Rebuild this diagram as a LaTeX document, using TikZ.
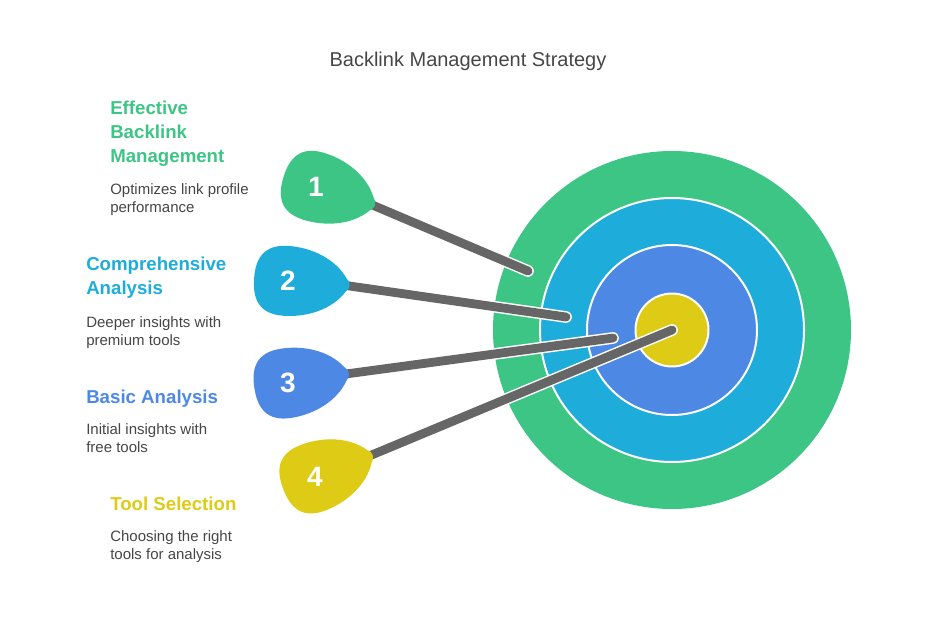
\documentclass[tikz,border=0pt]{standalone}
\usepackage{fontspec}
\setmainfont{Liberation Sans}
\usepackage{tikz}
\usetikzlibrary{positioning}
\definecolor{ringgreen}{HTML}{3DC585}
\definecolor{ringblue}{HTML}{1EACDA}
\definecolor{ringroyal}{HTML}{4C88E4}
\definecolor{ringyellow}{HTML}{DECB16}
\definecolor{shaftgray}{HTML}{666666}
\definecolor{txtgray}{HTML}{464646}

\begin{document}
\begin{tikzpicture}
  [x=0.75pt,y=-0.75pt,
   head/.style={anchor=base west,align=left,inner sep=0,font=\fontsize{14}{18}\selectfont\bfseries},
   desc/.style={anchor=base west,align=left,inner sep=0,text=txtgray,font=\fontsize{11.25}{13.5}\selectfont},
   num/.style={text=white,font=\fontsize{21}{21}\selectfont\bfseries},
   ringline/.style={draw=white,line width=1.5pt},
   shaftout/.style={draw=white,line width=8.8pt,line cap=round},
   shaft/.style={draw=shaftgray,line width=6.6pt,line cap=round}]
  \useasboundingbox (0,0) rectangle (936,642);

  \node[anchor=base,text=txtgray,font=\fontsize{15}{18}\selectfont] (title) at (468,67) {Backlink Management Strategy};

  \coordinate (c) at (672,330);
  \fill[ringgreen] (c) circle [radius=179];
  \path[fill=ringblue,ringline] (c) circle [radius=132];
  \path[fill=ringroyal,ringline] (c) circle [radius=85];
  \path[fill=ringyellow,ringline] (c) circle [radius=36.5];

  \coordinate (e1) at (528,271);
  \coordinate (e2) at (566,317);
  \coordinate (e3) at (613,338);
  \coordinate (e4) at (c);

  \foreach \i/\x/\y/\a/\col in {1/316/187/-17/ringgreen,2/288/281/-4/ringblue,3/288/383/9/ringroyal,4/315/477/21/ringyellow}{
    \path[shift={(\x,\y)},rotate=\a] (52,0) coordinate (t\i);
    \draw[shaftout] (t\i) -- (e\i);
    \draw[shaft] (t\i) -- (e\i);
    \fill[\col,shift={(\x,\y)},rotate=\a] (58,-7) .. controls (63,-3) and (63,3) .. (58,7)
      .. controls (46,25) and (22,35) .. (-2,35) .. controls (-27,35) and (-34,20) .. (-34,0)
      .. controls (-34,-20) and (-27,-35) .. (-2,-35) .. controls (22,-35) and (46,-25) .. cycle;
    \node[num] (n\i) at (\x,\y) {\i};
  }

  \node[head,text=ringgreen] (h1) at (110,162) {Effective\\Backlink\\Management};
  \node[desc] (d1) at (110,212) {Optimizes link profile\\performance};
  \node[head,text=ringblue] (h2) at (86,294) {Comprehensive\\Analysis};
  \node[desc] (d2) at (86,345) {Deeper insights with\\premium tools};
  \node[head,text=ringroyal] (h3) at (86,403) {Basic Analysis};
  \node[desc] (d3) at (86,452) {Initial insights with\\free tools};
  \node[head,text=ringyellow] (h4) at (110,510) {Tool Selection};
  \node[desc] (d4) at (110,559) {Choosing the right\\tools for analysis};

\end{tikzpicture}
\end{document}
